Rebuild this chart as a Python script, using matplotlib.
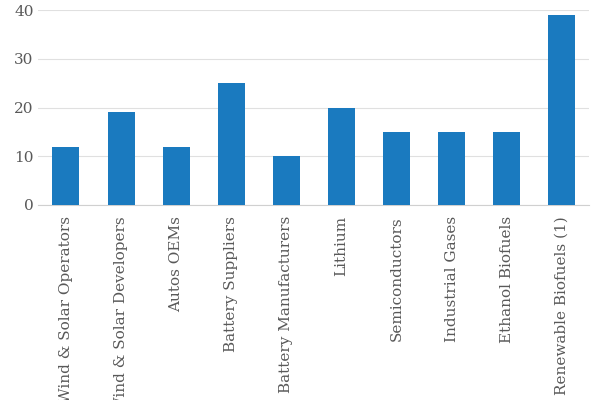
import matplotlib
matplotlib.use("Agg")
import matplotlib.pyplot as plt

categories = ["Wind & Solar Operators", "Wind & Solar Developers", "Autos OEMs",
              "Battery Suppliers", "Battery Manufacturers", "Lithium", "Semiconductors",
              "Industrial Gases", "Ethanol Biofuels", "Renewable Biofuels (1)"]
values = [12, 19, 12, 25, 10, 20, 15, 15, 15, 39]

plt.rcParams['font.family'] = ['DejaVu Serif']
fig = plt.figure(figsize=(6, 4), dpi=100)
ax = fig.add_axes([0.064, 0.4875, 0.918, 0.4875])
ax.bar(range(len(values)), values, width=0.49, color="#1a7abf", zorder=3)
ax.set_ylim(0, 40)
ax.set_yticks([0, 10, 20, 30, 40])
ax.set_xlim(-0.5, len(values) - 0.5)
ax.set_xticks(range(len(values)))
ax.set_xticklabels(categories, rotation=90, fontsize=11, color="#595959")
ax.tick_params(axis='y', labelsize=11, colors="#595959", length=0)
ax.tick_params(axis='x', length=0, pad=8)
ax.grid(axis='y', color="#e0e0e0", linewidth=0.8, zorder=0)
for s in ["top", "right", "left"]:
    ax.spines[s].set_visible(False)
ax.spines["bottom"].set_color("#d0d0d0")
fig.savefig("out.png", dpi=100)
